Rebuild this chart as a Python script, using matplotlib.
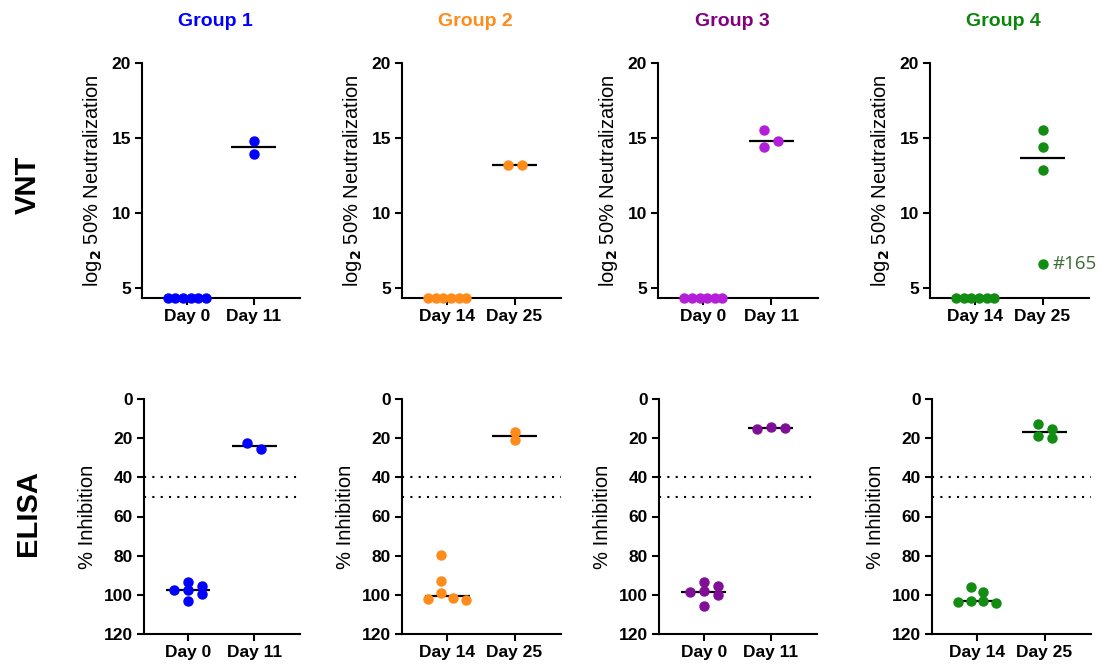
import numpy as np
import matplotlib
matplotlib.use('Agg')
import matplotlib.pyplot as plt

plt.rcParams['font.family'] = ['Liberation Sans', 'DejaVu Sans']
plt.rcParams['font.weight'] = 'bold'

# group names / colours
groups = ['Group 1', 'Group 2', 'Group 3', 'Group 4']
title_colors = ['#0000FF', '#FF8C1A', '#800080', '#0B860B']
vnt_colors = ['#0000FF', '#FF8C1A', '#B41ED8', '#128C12']
elisa_colors = ['#0000FF', '#FF8C1A', '#7E0F96', '#128C12']
day_labels = [['Day 0', 'Day 11'], ['Day 14', 'Day 25'],
              ['Day 0', 'Day 11'], ['Day 14', 'Day 25']]

# VNT (log2 50% neutralization)
vnt_g1_a = [4.32, 4.32, 4.32, 4.32, 4.32, 4.32]
vnt_g1_b = [14.82, 13.95]
vnt_g2_a = [4.32, 4.32, 4.32, 4.32, 4.32, 4.32]
vnt_g2_b = [13.2, 13.2]
vnt_g3_a = [4.32, 4.32, 4.32, 4.32, 4.32, 4.32]
vnt_g3_b = [14.42, 15.56, 14.82]
vnt_g4_a = [4.32, 4.32, 4.32, 4.32, 4.32, 4.32]
vnt_g4_b = [15.53, 14.42, 12.87, 6.6]

# ELISA (% inhibition)
elisa_g1_a = [93.6, 97.4, 103.0, 97.7, 95.3, 99.7]
elisa_g1_b = [25.7, 22.3]
elisa_g2_a = [79.5, 93.1, 99.2, 102.8, 102.1, 101.8]
elisa_g2_b = [17.0, 21.1]
elisa_g3_a = [93.6, 98.0, 95.5, 100.1, 105.5, 98.7]
elisa_g3_b = [15.5, 14.3, 14.6]
elisa_g4_a = [104.3, 103.1, 98.6, 103.8, 95.8, 103.1]
elisa_g4_b = [15.3, 19.9, 12.8, 18.7]

vnt_data = [(vnt_g1_a, vnt_g1_b), (vnt_g2_a, vnt_g2_b),
            (vnt_g3_a, vnt_g3_b), (vnt_g4_a, vnt_g4_b)]
elisa_data = [(elisa_g1_a, elisa_g1_b), (elisa_g2_a, elisa_g2_b),
              (elisa_g3_a, elisa_g3_b), (elisa_g4_a, elisa_g4_b)]
elisa_cutoffs = [40, 50]
outlier_label = '#165'

W, H = 1100, 668
fig = plt.figure(figsize=(W / 100, H / 100), dpi=100)


def rect(x0, x1, y0, y1):
    return [x0 / W, 1 - y1 / H, (x1 - x0) / W, (y1 - y0) / H]


top_x = [(142, 300), (402, 561), (658, 818), (930, 1089)]
bot_x = [(144, 300), (402, 561), (659, 817), (932, 1091)]


def swarm(ax, values, center, col_px=14.0, row_px=8.0, max_span=38.0):
    # column-style scatter: points closer than row_px vertically go in
    # different columns (col_px apart); squeeze if too wide
    vals = np.asarray(values, dtype=float)
    tr = ax.transData
    ypix = np.array([tr.transform((center, v))[1] for v in vals])
    x0pix = tr.transform((center, 0))[0]
    order = np.argsort(vals)
    steps = [0]
    for n in range(1, 20):
        steps += [n, -n]
    placed = []
    offs = np.zeros(len(vals))
    for i in order:
        for s in steps:
            c = s * col_px / 2
            ok = all(abs(c - xj) >= col_px - 1e-6 or abs(ypix[i] - ypix[j]) >= row_px
                     for j, xj in placed)
            if ok:
                offs[i] = c
                placed.append((i, c))
                break
    offs -= (offs.max() + offs.min()) / 2
    span = offs.max() - offs.min()
    if span > max_span:
        offs *= max_span / span
    inv = tr.inverted()
    xs = np.array([inv.transform((x0pix + o, 0))[0] for o in offs])
    return xs, vals


def style(ax):
    for s in ['top', 'right']:
        ax.spines[s].set_visible(False)
    for s in ['left', 'bottom']:
        ax.spines[s].set_linewidth(1.5)
    ax.tick_params(width=1.5, length=5, labelsize=12.5, pad=3)
    ax.set_xlim(-0.67, 1.69)
    ax.set_xticks([0, 1])


for g in range(4):
    # VNT row
    ax = fig.add_axes(rect(*top_x[g], 63, 298))
    style(ax)
    ax.set_ylim(4.32, 20)
    ax.set_yticks([5, 10, 15, 20])
    ax.set_xticklabels(day_labels[g])
    ax.set_ylabel('log$_2$ 50% Neutralization', fontsize=14.5, fontweight='normal',
                  labelpad=5)
    fig.canvas.draw()
    for k, vals in enumerate(vnt_data[g]):
        xs, ys = swarm(ax, vals, k)
        ax.hlines(np.median(ys), k - 0.335, k + 0.335, color='black', lw=1.6, zorder=3)
        ax.plot(xs, ys, 'o', color=vnt_colors[g], ms=6.5, clip_on=False, zorder=4)
    if g == 3:
        b = np.asarray(vnt_data[g][1])
        ax.text(1.15, b.min(), outlier_label, color='#3D6B35', fontsize=13.5,
                fontweight='normal', family=['Open Sans', 'DejaVu Sans'], va='center')
    cx = (top_x[g][0] + top_x[g][1]) / 2 - 6
    fig.text(cx / W, 1 - 22 / H, groups[g], color=title_colors[g], fontsize=14,
             fontweight='bold', ha='center', va='center')

    # ELISA row
    ax = fig.add_axes(rect(*bot_x[g], 399, 634))
    style(ax)
    ax.set_ylim(120, 0)
    ax.set_yticks(range(0, 121, 20))
    ax.set_xticklabels(day_labels[g])
    ax.set_ylabel('% Inhibition', fontsize=14.5, fontweight='normal', labelpad=5)
    for c in elisa_cutoffs:
        ax.axhline(c, color='black', ls=(0, (1, 3)), lw=1.5, zorder=1)
    fig.canvas.draw()
    for k, vals in enumerate(elisa_data[g]):
        xs, ys = swarm(ax, vals, k)
        ax.hlines(np.median(ys), k - 0.335, k + 0.335, color='black', lw=1.6, zorder=3)
        ax.plot(xs, ys, 'o', color=elisa_colors[g], ms=6.5, clip_on=False, zorder=4)

fig.text(28 / W, 1 - 185 / H, 'VNT', rotation=90, fontsize=21, fontweight='bold',
         ha='center', va='center')
fig.text(28 / W, 1 - 513 / H, 'ELISA', rotation=90, fontsize=21, fontweight='bold',
         ha='center', va='center')

fig.savefig('out.png', dpi=100)
